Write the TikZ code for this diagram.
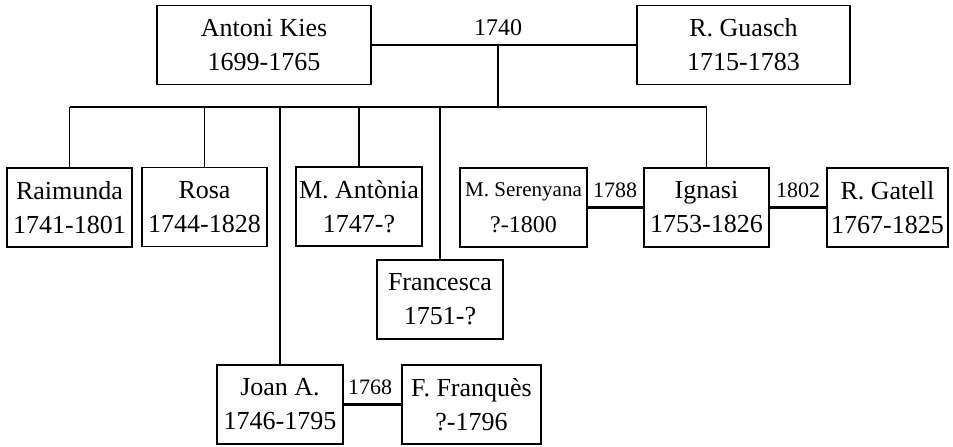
\documentclass[tikz,border=0pt]{standalone}
\usepackage{fontspec}
\setmainfont{Liberation Serif}
\usepackage{tikz}

\tikzset{
  person/.style={draw,line width=0.6pt,align=center,inner sep=0pt,minimum height=39.5pt,
    font=\fontsize{13}{17}\selectfont},
  wed/.style={line width=1.3pt},
  kid/.style={line width=0.6pt},
  year/.style={inner sep=0pt,font=\fontsize{11}{13}\selectfont}
}

\begin{document}
\begin{tikzpicture}[x=0.5pt,y=-0.5pt]
 % \draw[thin,gray!40] (0,0) grid (953,446);
  \useasboundingbox (0,0) rectangle (953,446);
  \node[person,minimum width=107pt] (ak) at (264,45) {Antoni Kies\\1699-1765};
  \node[person,minimum width=106.5pt] (rg) at (743.5,45) {R. Guasch\\1715-1783};
  \node[person,minimum width=62.5pt] (rai) at (69.5,207.5) {Raimunda\\1741-1801};
  \node[person,minimum width=62.5pt] (rosa) at (204.5,207) {Rosa\\1744-1828};
  \node[person,minimum width=63pt] (mant) at (359,206.5) {M. Antònia\\1747-?};
  \node[person,minimum width=63.5pt,font=\fontsize{10.5}{17}\selectfont] (mser) at (523.5,207.5) {M. Serenyana\\[1pt]{\fontsize{12}{14}\selectfont ?-1800}};
  \node[person,minimum width=62.5pt] (ign) at (706.5,207.5) {Ignasi\\1753-1826};
  \node[person,minimum width=60.5pt] (rgat) at (887.5,207.5) {R. Gatell\\1767-1825};
  \node[person,minimum width=63pt] (fra) at (440,299.5) {Francesca\\1751-?};
  \node[person,minimum width=63pt] (joan) at (280,404.5) {Joan A.\\1746-1795};
  \node[person,minimum width=69.5pt] (ffr) at (471.5,404.5) {F. Franquès\\?-1796};

  \draw[wed] (ak.east) -- (rg.west);
  \node[year,font=\fontsize{12}{14}\selectfont] (y1740) at (498,28) {1740};
  \coordinate (m1) at (498,45);
  \coordinate (bar) at (498,107);
  \draw[kid] (m1) -- (bar);
  \draw[wed] (rai.north |- bar) -- (ign.north |- bar);
  \foreach \k in {rai,rosa,mant,ign}
    \draw[kid] (\k.north |- bar) -- (\k.north);
  \draw[kid] (fra.north |- bar) -- (fra.north);
  \draw[kid] (joan.north |- bar) -- (joan.north);

  \draw[wed] (mser.east) -- (ign.west);
  \node[year] (y1788) at (615,190) {1788};
  \draw[wed] (ign.east) -- (rgat.west);
  \node[year] (y1802) at (798,190) {1802};
  \draw[wed] (joan.east) -- (ffr.west);
  \node[year] (y1768) at (370,387) {1768};
\end{tikzpicture}
\end{document}
